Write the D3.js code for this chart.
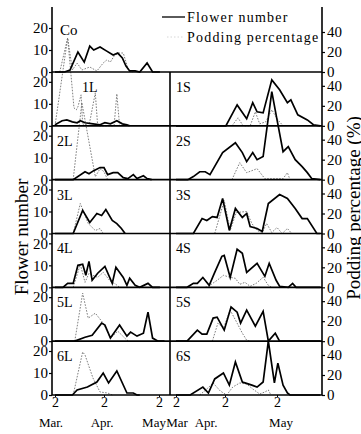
<!DOCTYPE html>
<html><head><meta charset="utf-8">
<script src="https://cdn.jsdelivr.net/npm/d3@7"></script>
<style>
body{margin:0;background:#fff}
svg{display:block;background:#fff}
svg text{font-family:"Liberation Serif","DejaVu Serif",serif;fill:#000}
</style>
</head><body>
<svg id="c" width="361" height="434"></svg>
<script>
// ---------- DATA (x = day counted from Mar 1, so 1 = Mar 2, 32 = Apr 2, 62 = May 2) ----------
const leftPanels  = ["Co","1L","2L","3L","4L","5L","6L"];
const rightPanels = [null,"1S","2S","3S","4S","5S","6S"];
const dateTicks = [1,32,62];
const dateTickLabels = ["2","2","2"];
const monthLabelsL = ["Mar.","Apr.","May"];
const monthLabelsR = ["Mar","Apr.","May"];
const flowerTicks = [0,10,20];
const pctTicks = [0,20,40];
const legendLabels = ["Flower number","Podding percentage"];
const yTitleLeft = "Flower number";
const yTitleRight = "Podding percentage (%)";

// flower number (solid) and podding percentage (dotted)
const flowerCo = [[1,0],[7,0],[10.5,0.9],[15.5,9.1],[19.5,4.5],[23,11.8],[25.5,10],[29.5,11.4],[33.5,9.5],[37,7.7],[39.5,8.6],[42,6.4],[44,2.7],[46,0.5],[49,0.5],[51.5,0],[55.5,4.1],[58.5,0],[62.5,0]];
const podCo    = [[4,0],[9,34],[12,2],[15,9],[18,2],[23,5],[27.5,1],[31.5,9],[33.5,12],[35.5,10],[37.5,16],[40,19],[42.5,19],[44,10],[45.5,1],[47.5,0]];
const flower1L = [[1,0.5],[5.5,2.3],[8.5,2.7],[12,1.8],[15,1.4],[17,2.3],[20,1.4],[25,0.9],[29.5,0.5],[32.5,1.4],[35.5,0.9],[39,2.3],[42,0.9],[44.5,0.5],[46,0]];
const pod1L    = [[1,0],[9,88],[13,18],[14.5,16],[15.5,19],[17.5,31],[18.5,2],[22.5,0],[26.5,33],[28,0],[37.5,0],[39,32],[40.5,0]];
const flower2L = [[1,0],[12.5,0],[20,3.6],[22.5,2.7],[25.5,4.1],[29.5,5.5],[32,5.5],[34,2.3],[37,3.2],[39.5,3.2],[42.5,0.9],[45,0.5],[48,2.3],[50,0.5],[53.5,1.8],[55.5,0.5],[58,0]];
const pod2L    = [[12.5,0],[18,77],[26.5,3],[29.5,11],[32,8],[34,0]];
const flower3L = [[1,0],[12.5,0],[18.5,10.5],[23,5],[27.5,9.1],[30.5,8.2],[33,10.9],[36.5,5.9],[39,4.5],[41.5,2.3],[43.5,0]];
const pod3L    = [[12.5,0],[17,30],[22,10],[26.5,3],[29.5,5],[31.5,0]];
const flower4L = [[1,0],[6,0],[9,1.8],[12.5,1.8],[15.5,10],[18.5,10.5],[20.5,5.5],[22.5,11.8],[24.5,3.2],[28,6.4],[32.5,9.5],[36.5,1.8],[38.5,9.1],[42.5,4.5],[44.5,0.9],[46,4.1],[49,0.9],[51.5,0],[56,1.8],[58.5,0],[62.5,0]];
const pod4L    = [[12.5,0],[14.5,10],[17,23],[20,5],[22.5,14],[25,12],[28,10],[31.5,15],[35.5,6],[38.5,3],[40.5,0]];
const flower5L = [[1,0],[13.5,0],[20,1.8],[24.5,2.7],[30.5,8.2],[32.5,7.3],[35.5,1.4],[40.5,7.3],[44.5,2.3],[46.5,4.1],[50,2.3],[53.5,3.6],[56,13.2],[58.5,1.4],[61.5,0],[65,0]];
const pod5L    = [[13.5,0],[18.5,48],[22,23],[26.5,28],[31.5,18],[35.5,3],[39.5,10],[44.5,1],[46,0]];
const flower6L = [[1,0],[12,0],[15,2.3],[21.5,3.6],[27.5,5.9],[31.5,10],[34.5,5.5],[39,10.9],[44.5,0.9],[48,0.9],[50,0],[51.5,0]];
const pod6L    = [[12.5,0],[18.5,43],[20,40],[25,17],[29.5,3],[34,2],[36.5,0]];

const flower1S = [[1,0],[32.5,0],[39,9.5],[44.5,3.2],[48,10.5],[50.5,6.4],[54,5.9],[59,20.9],[63.5,16.4],[68,10.5],[70,11.8],[74,5],[79.5,2.7],[83,0.5],[87,0]];
const pod1S    = [[36,0],[39.5,8],[42.5,0],[46.5,0],[49.5,14],[52,2],[55.5,4],[59,16],[62.5,6],[65.5,0]];
const flower2S = [[1,0],[8.5,0],[12,1.4],[16,3.6],[19.5,3.6],[22.5,2.3],[30.5,12.3],[38,16.8],[42,12.3],[44.5,8.2],[48,12.3],[50.5,9.1],[54,10.5],[59,40],[62,27.3],[65.5,12.7],[68.5,15],[72.5,9.1],[76.5,5.9],[79.5,3.2],[82,0.5],[87,0]];
const pod2S    = [[36,0],[40.5,17],[44.5,7],[50.5,11],[55,1],[65.5,1],[68,7],[69.5,0]];
const flower3S = [[1,0],[12,0],[17.5,6.8],[20.5,5.9],[24,7.7],[27,7.3],[30.5,15.9],[34.5,1.4],[38,11.4],[42,7.3],[44.5,9.1],[46.5,3.2],[50.5,2.3],[53.5,0.9],[57,13.6],[63.5,17.7],[68,15.9],[72.5,11.4],[76.5,6.8],[79.5,6.8],[85,0],[87,0]];
const pod3S    = [[25.5,0],[31.5,33],[35,3],[38.5,21],[44.5,22],[47.5,10],[50.5,3],[53.5,1],[56,10],[59,1],[62,6],[65,0],[68,5],[70.5,0]];
const flower4S = [[1,0],[8,0],[12,1.8],[14.5,1.8],[18,4.5],[22,0.9],[25.5,6.8],[30,14.1],[31.5,14.5],[35,4.5],[39,17.3],[42,15.5],[44.5,6.8],[50.5,10.9],[55,5],[57.5,10.9],[61.5,3.2],[63.5,0.5],[68.5,0],[71,1.8],[73,0],[87,0]];
const pod4S    = [[19.5,0],[21.5,1],[27,7],[31,12],[35,10],[38,9],[40.5,3],[43.5,5],[46.5,1],[50,4],[54,10],[57,2],[59,0]];
const flower5S = [[1,0],[8,0],[14.5,5],[17.5,3.2],[20.5,3.2],[24.5,10.5],[27,10.9],[31.5,5],[35.5,15.5],[39,13.2],[41,8.2],[44.5,14.1],[49.5,6.8],[54,13.6],[57,0],[61,3.6],[63.5,0],[87,0]];
const pod5S    = [[24,0],[27.5,18],[31,13],[35,31],[39,18],[42,8],[44.5,1],[46.5,0]];
const flower6S = [[1,0],[10,0],[18,3.6],[21.5,0.9],[25.5,7.3],[31,10],[34.5,4.5],[38,15],[42,5.9],[43.5,5.5],[47.5,4.5],[50.5,3.6],[54,5.9],[57,24.5],[60.5,5.5],[62.5,14.5],[65.5,4.5],[68,0.9],[69.5,0],[87,0]];
const pod6S    = [[16,0],[20.5,6],[24.5,12],[29,4],[33,0],[36.5,8],[40.5,12],[44.5,11],[48,6],[52,1],[55,3],[57,5],[58.5,0]];

const leftFlower  = [flowerCo,flower1L,flower2L,flower3L,flower4L,flower5L,flower6L];
const leftPod     = [podCo,pod1L,pod2L,pod3L,pod4L,pod5L,pod6L];
const rightFlower = [null,flower1S,flower2S,flower3S,flower4S,flower5S,flower6S];
const rightPod    = [null,pod1S,pod2S,pod3S,pod4S,pod5S,pod6S];

// ---------- LAYOUT ----------
const FONT = '"Liberation Serif","DejaVu Serif",serif';
const svg = d3.select("#c").attr("font-family", FONT);
const axL = 52, axR = 322, mid = 170, topY = 7;
const xL = d3.scaleLinear().domain(dateTicks).range([55,104,159]);
const xR = d3.scaleLinear().domain(dateTicks).range([176,225,277]);
const row = d3.scaleLinear().domain([0,6]).range([72,395]);
const yF = i => d3.scaleLinear().domain([0,20]).range([row(i), row(i)-44]);
const yP = i => d3.scaleLinear().domain([0,40]).range([row(i), row(i)-40]);

const gDot = svg.append("g"), gSolid = svg.append("g"), gAx = svg.append("g");

function drawSeries(x, i, fl, pd){
  if(pd){
    const ly = yP(i);
    gDot.append("path").datum(pd)
      .attr("d", d3.line().x(d=>x(d[0])).y(d=>ly(d[1])))
      .attr("fill","none").attr("stroke","#707070").attr("stroke-width",0.9)
      .attr("stroke-dasharray","1.6,1.4");
  }
  if(fl){
    const ly = yF(i);
    gSolid.append("path").datum(fl)
      .attr("d", d3.line().x(d=>x(d[0])).y(d=>ly(d[1])))
      .attr("fill","none").attr("stroke","#000").attr("stroke-width",1.7)
      .attr("stroke-linejoin","miter");
  }
}
for(let i=0;i<7;i++){
  drawSeries(xL,i,leftFlower[i],leftPod[i]);
  drawSeries(xR,i,rightFlower[i],rightPod[i]);
}

// frame lines
const line = (x1,y1,x2,y2,w=1.6)=>gAx.append("line").attr("x1",x1).attr("y1",y1).attr("x2",x2).attr("y2",y2).attr("stroke","#000").attr("stroke-width",w);
line(axL,topY,axL,row(6));
line(axR,topY,axR,row(6));
line(mid,row(0),mid,row(6));
for(let i=0;i<7;i++) line(axL,row(i),axR,row(i));

const txt = (sel, size) => sel.attr("font-family", FONT).style("font-family", FONT).style("font-size", size+"px");

// y axes
for(let i=0;i<7;i++){
  const gl = gAx.append("g").attr("transform",`translate(${axL},0)`)
    .call(d3.axisLeft(yF(i)).tickValues(flowerTicks).tickSize(3).tickPadding(1));
  gl.attr("font-family", FONT);
  gl.select(".domain").remove();
  gl.selectAll("line").attr("stroke-width",1.2);
  txt(gl.selectAll("text"), 15);
  const gr = gAx.append("g").attr("transform",`translate(${axR},0)`)
    .call(d3.axisRight(yP(i)).tickValues(pctTicks).tickSize(3).tickPadding(2));
  gr.attr("font-family", FONT);
  gr.select(".domain").remove();
  gr.selectAll("line").attr("stroke-width",1.2);
  txt(gr.selectAll("text"), 15);
}

// x axes (bottom)
[[xL,monthLabelsL,[-4,-2,-5]],[xR,monthLabelsR,[1,-19,4]]].forEach(([x,months,nudge])=>{
  const g = gAx.append("g").attr("transform",`translate(0,${row(6)})`)
    .call(d3.axisBottom(x).tickValues(dateTicks).tickFormat((d,k)=>dateTickLabels[k]).tickSize(2).tickPadding(0));
  g.attr("font-family", FONT);
  g.select(".domain").remove();
  txt(g.selectAll("text"), 14);
  months.forEach((m,k)=>{
    txt(gAx.append("text").attr("x",x(dateTicks[k])+nudge[k]).attr("y",427)
      .attr("text-anchor","middle"), 13).text(m);
  });
});

// panel labels
leftPanels.forEach((t,i)=>{
  txt(gAx.append("text").attr("x", i===0?60:(i===1?82:57)).attr("y", i===0?row(0)-37:row(i)-34), i===0?15:14).text(t);
});
rightPanels.forEach((t,i)=>{
  if(!t) return;
  txt(gAx.append("text").attr("x",176).attr("y",row(i)-34), 14).text(t);
});

// legend
line(162,17,185,17,1.3);
txt(gAx.append("text").attr("x",187).attr("y",22), 14).style("letter-spacing","1.2px").text(legendLabels[0]);
gAx.append("line").attr("x1",167).attr("y1",37).attr("x2",184).attr("y2",37)
  .attr("stroke","#ccc").attr("stroke-width",0.8).attr("stroke-dasharray","1.5,2");
txt(gAx.append("text").attr("x",187).attr("y",42), 14).style("letter-spacing","1.2px").text(legendLabels[1]);

// axis titles
txt(gAx.append("text").attr("transform","translate(28,237) rotate(-90)").attr("text-anchor","middle"), 19).text(yTitleLeft);
txt(gAx.append("text").attr("transform","translate(360,208) rotate(-90)").attr("text-anchor","middle"), 19).text(yTitleRight);
</script>
</body></html>
